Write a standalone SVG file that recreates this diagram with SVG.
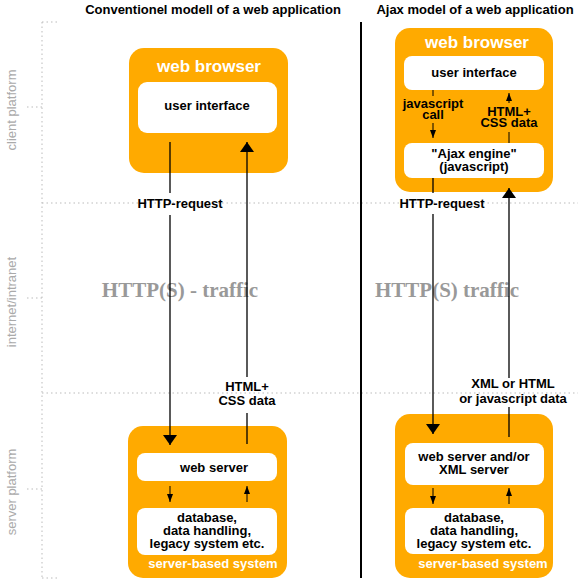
<svg xmlns="http://www.w3.org/2000/svg" width="578" height="585" viewBox="0 0 578 585">
<style>
.t{font-family:"Liberation Sans",Arial,sans-serif;font-weight:bold;font-size:13px;fill:#000;text-anchor:middle}
.w{font-family:"Liberation Sans",Arial,sans-serif;font-weight:bold;fill:#fff;text-anchor:middle}
.side{font-family:"Liberation Sans",Arial,sans-serif;font-size:13px;fill:#aaa;text-anchor:middle}
.traffic{font-family:"Liberation Serif","Times New Roman",serif;font-weight:bold;font-size:21px;fill:#999;text-anchor:middle}
.outer{fill:#FFAA00}
.inner{fill:#fff}
.dot{stroke:#bbb;stroke-width:1;stroke-dasharray:1.5 3;fill:none}
.ln{stroke:#000;stroke-width:1.3;fill:none}
.sm{stroke:#000;stroke-width:1;fill:none}
</style>
<defs>
<marker id="big" viewBox="0 0 10 14" refX="10" refY="7" markerWidth="10" markerHeight="14" markerUnits="userSpaceOnUse" orient="auto"><path d="M0,0 L10,7 L0,14 z" fill="#000"/></marker>
<marker id="small" viewBox="0 0 8 6" refX="8" refY="3" markerWidth="8" markerHeight="6" markerUnits="userSpaceOnUse" orient="auto"><path d="M0,0 L8,3 L0,6 z" fill="#000"/></marker>
</defs>
<rect width="578" height="585" fill="#fff"/>
<g id="grid">
<path class="dot" d="M42,22 V578 M42,22 H57 M42,578 H57 M27,107 H42 M27,298 H42 M27,489 H42 M42,203 H578 M42,393 H578"/>
<text class="side" transform="translate(16,110) rotate(-90)">client platform</text>
<text class="side" transform="translate(16,302) rotate(-90)">internet/intranet</text>
<text class="side" transform="translate(16,492) rotate(-90)">server platform</text>
<line x1="361" y1="22" x2="361" y2="578" stroke="#000" stroke-width="2"/>
<text class="t" x="213" y="14">Conventionel modell of a web application</text>
<text class="t" x="475" y="14">Ajax model of a web application</text>
<text class="traffic" x="180" y="297">HTTP(S) - traffic</text>
<text class="traffic" x="447" y="297">HTTP(S) traffic</text>
</g>
<g id="left-browser">
<rect class="outer" x="129" y="48" width="159" height="125" rx="15"/>
<text class="w" x="209" y="72" font-size="17">web browser</text>
<rect class="inner" x="138" y="82" width="139" height="51" rx="9"/>
<text class="t" x="207" y="110">user interface</text>
</g>
<g id="left-server">
<rect class="outer" x="128" y="426" width="159" height="152" rx="15"/>
<rect class="inner" x="137" y="453" width="140" height="28" rx="8"/>
<text class="t" x="214" y="472">web server</text>
<rect class="inner" x="137" y="508" width="140" height="47" rx="8"/>
<text class="t" x="207" y="522">database,</text>
<text class="t" x="207" y="535">data handling,</text>
<text class="t" x="207" y="548">legacy system etc.</text>
<text class="w" x="213" y="568" font-size="13">server-based system</text>
</g>
<g id="right-browser">
<rect class="outer" x="395" y="28" width="158" height="164" rx="15"/>
<text class="w" x="477" y="48" font-size="17">web browser</text>
<rect class="inner" x="404" y="56" width="140" height="34" rx="8"/>
<text class="t" x="474" y="77">user interface</text>
<rect class="inner" x="404" y="143" width="140" height="35" rx="8"/>
<text class="t" x="474" y="158">"Ajax engine"</text>
<text class="t" x="474" y="171">(javascript)</text>
</g>
<g id="right-server">
<rect class="outer" x="395" y="414" width="158" height="164" rx="15"/>
<rect class="inner" x="405" y="443" width="139" height="42" rx="8"/>
<text class="t" x="474" y="461">web server and/or</text>
<text class="t" x="474" y="474">XML server</text>
<rect class="inner" x="405" y="508" width="139" height="46" rx="8"/>
<text class="t" x="474" y="522">database,</text>
<text class="t" x="474" y="535">data handling,</text>
<text class="t" x="474" y="548">legacy system etc.</text>
<text class="w" x="483" y="568" font-size="13">server-based system</text>
</g>
<g id="connectors">
<path class="ln" d="M170,142 V193"/>
<path class="ln" d="M170,215 V445" marker-end="url(#big)"/>
<text class="t" x="180" y="208">HTTP-request</text>
<path class="ln" d="M247,413 V444"/>
<path class="ln" d="M247,377 V142" marker-end="url(#big)"/>
<text class="t" x="247" y="391">HTML+</text>
<text class="t" x="247" y="405">CSS data</text>
<path class="sm" d="M170,486 V502" marker-end="url(#small)"/>
<path class="sm" d="M247,502 V486" marker-end="url(#small)"/>
<path class="sm" d="M433,90 V96"/>
<path class="sm" d="M433,123 V138" marker-end="url(#small)"/>
<text class="t" x="433" y="108">javascript</text>
<text class="t" x="433" y="119">call</text>
<path class="sm" d="M509,143 V132"/>
<path class="sm" d="M509,103 V93" marker-end="url(#small)"/>
<text class="t" x="509" y="116">HTML+</text>
<text class="t" x="509" y="127">CSS data</text>
<path class="ln" d="M433,178 V193"/>
<path class="ln" d="M433,214 V434" marker-end="url(#big)"/>
<text class="t" x="442" y="208">HTTP-request</text>
<path class="ln" d="M509,437 V407"/>
<path class="ln" d="M509,378 V188" marker-end="url(#big)"/>
<text class="t" x="513" y="388">XML or HTML</text>
<text class="t" x="513" y="403">or javascript data</text>
<path class="sm" d="M433,488 V504" marker-end="url(#small)"/>
<path class="sm" d="M509,504 V488" marker-end="url(#small)"/>
</g>
</svg>
